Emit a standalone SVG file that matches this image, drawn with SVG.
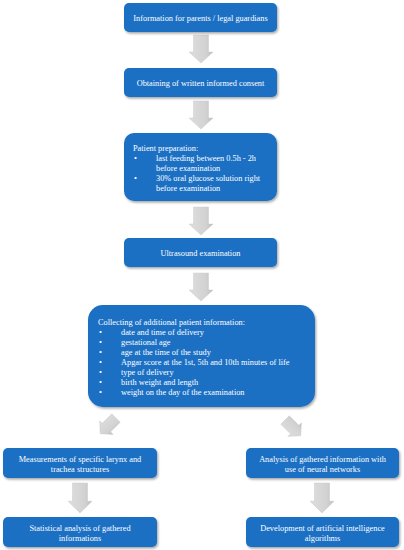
<svg xmlns="http://www.w3.org/2000/svg" width="404" height="550" viewBox="0 0 404 550">
<style>
.box{fill:#1a6fc4;filter:url(#sh);}
.t{font-family:"Liberation Serif","DejaVu Serif",serif;font-size:8.3px;fill:#ffffff;}
.c{text-anchor:middle;}
.arr{fill:url(#g);stroke:#c4c4c4;stroke-width:0.4;}
</style>
<defs>
<filter id="sh" x="-10%" y="-20%" width="125%" height="150%">
<feDropShadow dx="1.2" dy="1.6" stdDeviation="1" flood-color="#000" flood-opacity="0.35"/>
</filter>
<linearGradient id="g" x1="0" y1="0" x2="1" y2="0">
<stop offset="0" stop-color="#dedede"/><stop offset="0.7" stop-color="#d2d2d2"/><stop offset="1" stop-color="#bdbdbd"/>
</linearGradient>
<path id="a" d="M-7.5,0 L7.5,0 L7.5,17 L12,17 L0,28 L-12,17 L-7.5,17 Z"/>
</defs>
<rect width="404" height="550" fill="#ffffff"/>
<g id="connectors" class="arr">
<use href="#a" transform="translate(201,35)"/>
<use href="#a" transform="translate(201,101)"/>
<use href="#a" transform="translate(201,207)"/>
<use href="#a" transform="translate(201,273)"/>
<use href="#a" transform="translate(116,418) rotate(45) scale(0.8)"/>
<use href="#a" transform="translate(285,420) rotate(-45) scale(0.8)"/>
<use href="#a" transform="translate(80,483) scale(1,1.07)"/>
<use href="#a" transform="translate(322,483) scale(1,1.07)"/>
</g>
<g id="n1"><rect class="box" x="124" y="3" width="153" height="29" rx="5"/>
<text class="t c" x="200.5" y="20.5">Information for parents / legal guardians</text></g>
<g id="n2"><rect class="box" x="124" y="68" width="153" height="29" rx="5"/>
<text class="t c" x="200.5" y="86">Obtaining of written informed consent</text></g>
<g id="n3"><rect class="box" x="124" y="133" width="153" height="68" rx="10"/>
<text class="t" x="133" y="150.5">Patient preparation:</text>
<text class="t" x="134" y="160.5">•</text><text class="t" x="156" y="160.5">last feeding between 0.5h - 2h</text>
<text class="t" x="156" y="170.5">before examination</text>
<text class="t" x="134" y="180.5">•</text><text class="t" x="156" y="180.5">30% oral glucose solution right</text>
<text class="t" x="156" y="190.5">before examination</text></g>
<g id="n4"><rect class="box" x="124" y="238" width="153" height="29" rx="5"/>
<text class="t c" x="200.5" y="256">Ultrasound examination</text></g>
<g id="n5"><rect class="box" x="88" y="305" width="227" height="102" rx="15"/>
<text class="t" x="98" y="324.5">Collecting of additional patient information:</text>
<g>
<text class="t" x="99" y="334.5">•</text><text class="t" x="121" y="334.5">date and time of delivery</text>
<text class="t" x="99" y="344.5">•</text><text class="t" x="121" y="344.5">gestational age</text>
<text class="t" x="99" y="354.5">•</text><text class="t" x="121" y="354.5">age at the time of the study</text>
<text class="t" x="99" y="364.5">•</text><text class="t" x="121" y="364.5">Apgar score at the 1st, 5th and 10th minutes of life</text>
<text class="t" x="99" y="374.5">•</text><text class="t" x="121" y="374.5">type of delivery</text>
<text class="t" x="99" y="384.5">•</text><text class="t" x="121" y="384.5">birth weight and length</text>
<text class="t" x="99" y="394.5">•</text><text class="t" x="121" y="394.5">weight on the day of the examination</text>
</g></g>
<g id="n6"><rect class="box" x="3" y="448" width="154" height="30" rx="5"/>
<text class="t c" x="80" y="461.5">Measurements of specific larynx and</text>
<text class="t c" x="80" y="472">trachea structures</text></g>
<g id="n7"><rect class="box" x="246" y="448" width="153" height="30" rx="5"/>
<text class="t c" x="322.5" y="461.5">Analysis of gathered information with</text>
<text class="t c" x="322.5" y="472">use of neural networks</text></g>
<g id="n8"><rect class="box" x="3" y="517" width="154" height="30" rx="5"/>
<text class="t c" x="80" y="530.5">Statistical analysis of gathered</text>
<text class="t c" x="80" y="541">informations</text></g>
<g id="n9"><rect class="box" x="246" y="517" width="153" height="30" rx="5"/>
<text class="t c" x="322.5" y="530.5">Development of artificial intelligence</text>
<text class="t c" x="322.5" y="541">algorithms</text></g>
</svg>
